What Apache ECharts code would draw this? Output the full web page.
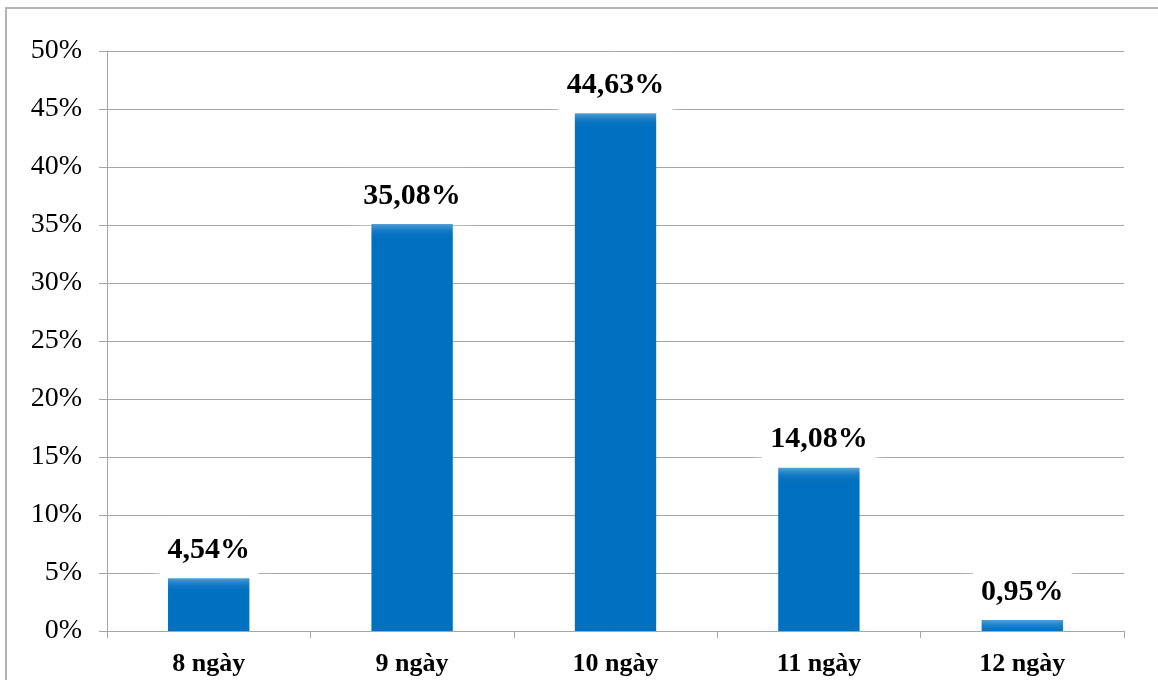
<!DOCTYPE html>
<html>
<head>
<meta charset="utf-8">
<script src="https://cdn.jsdelivr.net/npm/echarts@6/dist/echarts.min.js"></script>
<style>
  html, body { margin: 0; padding: 0; background: #fff; }
  #frame { position: absolute; left: 5px; top: 7px; width: 1158px; height: 680px;
           border-left: 2px solid #b4b4b4; border-top: 2px solid #b4b4b4; box-sizing: border-box; }
  #chart { position: absolute; left: 0; top: 0; width: 1158px; height: 680px; }
</style>
</head>
<body>
<div id="frame"></div>
<div id="chart"></div>
<script>
// Share of cases by number of days
const categories = ['8 ngày', '9 ngày', '10 ngày', '11 ngày', '12 ngày'];
const shares = [4.54, 35.08, 44.63, 14.08, 0.95];
const yTicks = { min: 0, max: 50, step: 5 };

const serif = '"Liberation Serif", "DejaVu Serif", serif';
const gridGray = '#a6a6a6';

const chart = echarts.init(document.getElementById('chart'), null, { renderer: 'canvas' });

chart.setOption({
  animation: false,
  backgroundColor: 'transparent',
  grid: { left: 107, right: 34, top: 51, bottom: 49 },
  xAxis: {
    type: 'category',
    data: categories,
    axisLine: { lineStyle: { color: gridGray, width: 1 } },
    axisTick: { show: true, length: 7, lineStyle: { color: gridGray } },
    axisLabel: {
      margin: 20,
      color: '#000',
      fontFamily: serif,
      fontWeight: 'bold',
      fontSize: 26
    }
  },
  yAxis: {
    type: 'value',
    min: yTicks.min,
    max: yTicks.max,
    interval: yTicks.step,
    axisLine: { show: true, lineStyle: { color: gridGray, width: 1 } },
    axisTick: { show: true, inside: false, length: 8, lineStyle: { color: gridGray } },
    splitLine: { lineStyle: { color: gridGray, width: 1 } },
    axisLabel: {
      margin: 25,
      color: '#000',
      fontFamily: serif,
      fontSize: 28,
      formatter: '{value}%'
    }
  },
  series: [{
    type: 'bar',
    data: shares,
    barWidth: '40%',
    itemStyle: { color: '#0070C0' },
    label: {
      show: true,
      position: 'top',
      distance: 3,
      color: '#000',
      fontFamily: serif,
      fontWeight: 'bold',
      fontSize: 30,
      lineHeight: 32,
      backgroundColor: '#fff',
      padding: [3, 8, 9, 8],
      shadowColor: '#fff',
      shadowBlur: 14,
      formatter: p => p.value.toFixed(2).replace('.', ',') + '%'
    }
  }]
});
</script>
</body>
</html>
